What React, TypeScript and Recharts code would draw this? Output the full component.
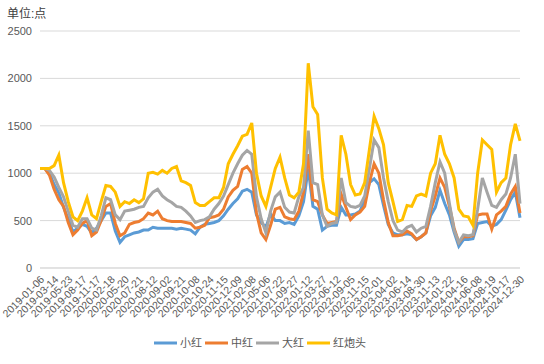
import React from "react";
import { LineChart, Line, XAxis, YAxis, CartesianGrid, Legend } from "recharts";

const tickLabels = [
  "2019-01-06", "2019-03-14", "2019-05-23", "2019-08-17", "2019-11-17", "2020-02-18",
  "2020-05-20", "2020-07-21", "2020-08-12", "2020-09-02", "2020-09-21", "2020-10-08",
  "2020-10-24", "2020-11-15", "2020-12-09", "2021-02-08", "2021-05-06", "2021-07-22",
  "2021-09-27", "2022-01-12", "2022-03-27", "2022-06-12", "2022-09-05", "2022-11-15",
  "2023-02-01", "2023-04-02", "2023-06-14", "2023-08-30", "2023-11-13", "2024-01-22",
  "2024-04-16", "2024-06-08", "2024-08-19", "2024-10-17", "2024-12-30",
];

const xiaohong = [
  1050, 1050, 1000, 880, 790, 640, 520, 380, 420, 460, 440, 370, 420, 500, 580, 580, 390, 270,
  330, 350, 370, 380, 400, 400, 430, 420, 420, 420, 420, 410, 420, 410, 400, 360, 430, 460,
  470, 480, 500, 550, 620, 680, 730, 810, 830, 800, 560, 480, 430, 570, 500, 500, 470, 480,
  460, 550, 700, 1050, 650, 620, 400, 440, 450, 450, 640, 560, 560, 570, 600, 720, 900, 940,
  880, 660, 460, 370, 350, 350, 360, 350, 300, 330, 370, 550, 640, 820, 680, 560, 380, 230,
  300, 300, 310, 470, 480, 490, 440, 460, 510, 610, 720, 800, 530,
];

const zhonghong = [
  1050, 1050, 980, 830, 720, 650, 480, 350, 400, 470, 500, 340, 380, 500, 650, 680, 470, 340,
  370, 460, 480, 490, 520, 580, 560, 600, 520, 500, 490, 490, 490, 480, 470, 420, 430, 450,
  530, 540, 560, 620, 750, 820, 860, 1040, 1070, 1000, 580, 370, 300, 450, 620, 640, 540, 520,
  510, 600, 800, 1200, 720, 700, 560, 470, 480, 490, 780, 640, 510, 560, 590, 650, 900, 1100,
  1000, 720, 480, 340, 340, 350, 390, 360, 300, 330, 370, 600, 760, 950, 850, 650, 420, 270,
  330, 330, 340, 560, 570, 570, 410, 560, 600, 650, 780, 860, 580,
];

const dahong = [
  1050, 1050, 1030, 960, 850, 750, 600, 450, 430, 520, 520, 420, 400, 550, 740, 720, 560, 510,
  600, 610, 620, 640, 650, 740, 800, 830, 760, 720, 690, 650, 640, 600, 550, 480, 500, 510,
  540, 620, 680, 760, 880, 1000, 1100, 1190, 1240, 1200, 750, 520, 370, 600, 750, 800, 640, 590,
  580, 750, 850, 1450, 900, 880, 560, 440, 470, 480, 950, 690, 650, 640, 660, 760, 1050, 1350,
  1270, 950, 700, 500, 400, 380, 430, 450, 380, 420, 440, 650, 900, 1120, 1000, 680, 400, 270,
  350, 340, 350, 620, 950, 800, 660, 640, 720, 780, 950, 1200, 680,
];

const hongpaotou = [
  1050, 1050, 1050, 1080, 1190, 900, 700, 540, 500, 600, 740, 560, 520, 700, 870, 860, 800, 650,
  700, 680, 720, 690, 730, 1000, 1010, 990, 1030, 1000, 1050, 1070, 920, 900, 870, 690, 660, 660,
  700, 740, 740, 850, 1100, 1200, 1290, 1390, 1410, 1530, 1000, 760, 650, 850, 1050, 1170, 950, 770,
  740, 800, 1100, 2160, 1700, 1620, 950, 620, 580, 560, 1400, 1200, 880, 770, 780, 900, 1250, 1600,
  1470, 1300, 900, 700, 490, 510, 660, 650, 760, 780, 760, 1000, 1100, 1400, 1200, 1100, 950, 620,
  550, 540, 450, 1000, 1350, 1300, 1250, 800, 900, 950, 1300, 1520, 1340,
];

const seriesNames = ["小红", "中红", "大红", "红炮头"];
const seriesColors = ["#5B9BD5", "#ED7D31", "#A5A5A5", "#FFC000"];
const yTicks = [0, 500, 1000, 1500, 2000, 2500];

const data = xiaohong.map((v, i) => ({
  i,
  xiaohong: v,
  zhonghong: zhonghong[i],
  dahong: dahong[i],
  hongpaotou: hongpaotou[i],
}));

const FONT = "'Liberation Sans', 'Noto Sans CJK SC', sans-serif";

const XTick = (props: any) => {
  const { x, y, payload } = props;
  const label = tickLabels[Math.round(payload.value / 3)] ?? "";
  const ax = x + 5;
  const ay = y + 4;
  return (
    <text
      x={ax}
      y={ay}
      transform={`rotate(-45, ${ax}, ${ay})`}
      textAnchor="end"
      fontSize={10.5}
      fontFamily={FONT}
      fill="#595959"
    >
      {label}
    </text>
  );
};

const LegendContent = () => (
  <div
    style={{
      display: "flex",
      justifyContent: "center",
      alignItems: "center",
      height: 24,
      fontSize: 11,
      fontFamily: FONT,
      color: "#595959",
      lineHeight: "14px",
    }}
  >
    {seriesNames.map((n, k) => (
      <div key={n} style={{ display: "flex", alignItems: "center", marginRight: k < 3 ? 3 : 0 }}>
        <svg width={23} height={10} style={{ display: "block" }}>
          <line x1={0} y1={5} x2={23} y2={5} stroke={seriesColors[k]} strokeWidth={3} />
        </svg>
        <span style={{ marginLeft: 3 }}>{n}</span>
      </div>
    ))}
  </div>
);

export default function App() {
  return (
    <div style={{ position: "absolute", left: 0, top: 0, width: 544, height: 364, background: "#fff" }}>
      <div
        style={{
          position: "absolute",
          left: 7,
          top: 4,
          fontSize: 12,
          fontFamily: FONT,
          color: "#404040",
        }}
      >
        单位:点
      </div>
      <LineChart
        width={544}
        height={364}
        data={data}
        margin={{ top: 31, right: 24, left: 0, bottom: 9 }}
      >
        <CartesianGrid vertical={false} stroke="#d9d9d9" />
        <XAxis
          dataKey="i"
          type="category"
          interval={2}
          tick={<XTick />}
          tickLine={false}
          axisLine={{ stroke: "#d9d9d9" }}
          height={63}
        />
        <YAxis
          domain={[0, 2500]}
          ticks={yTicks}
          width={40}
          tickLine={false}
          axisLine={false}
          tick={{ fontSize: 11, fill: "#595959", fontFamily: FONT }}
        />
        <Legend
          verticalAlign="bottom"
          align="center"
          wrapperStyle={{ height: 24 }}
          content={<LegendContent />}
        />
        <Line dataKey="xiaohong" name="小红" stroke={seriesColors[0]} strokeWidth={3} dot={false} isAnimationActive={false} />
        <Line dataKey="zhonghong" name="中红" stroke={seriesColors[1]} strokeWidth={3} dot={false} isAnimationActive={false} />
        <Line dataKey="dahong" name="大红" stroke={seriesColors[2]} strokeWidth={3} dot={false} isAnimationActive={false} />
        <Line dataKey="hongpaotou" name="红炮头" stroke={seriesColors[3]} strokeWidth={3} dot={false} isAnimationActive={false} />
      </LineChart>
    </div>
  );
}
